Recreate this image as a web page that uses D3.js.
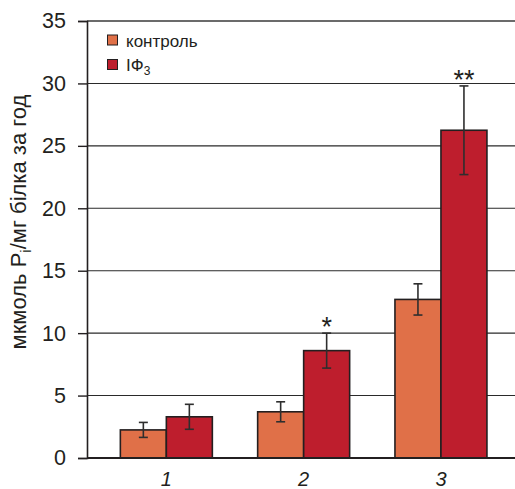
<!DOCTYPE html>
<html><head><meta charset="utf-8">
<script src="https://cdn.jsdelivr.net/npm/d3@7"></script>
<style>body{margin:0;background:#fff}svg{display:block}text{font-family:"Liberation Sans",Arial,sans-serif;fill:#231f20}</style>
</head><body><svg id="c" width="515" height="489"></svg>
<script>
const groups = ["1","2","3"];
const seriesNames = ["контроль","IФ3"];
const control = [2.25, 3.7, 12.7];
const controlErr = [0.6, 0.8, 1.25];
const treated = [3.3, 8.6, 26.25];
const treatedErr = [1.0, 1.4, 3.55];
const marks = ["", "*", "**"];
const yTicks = [0,5,10,15,20,25,30,35];
const colors = ["#e07048", "#be1e2d"];

(function(){
const svg = d3.select("#c");
const mLeft = 87, mRight = 515, mTop = 21, mBottom = 458;
const y = d3.scaleLinear().domain([0,35]).range([mBottom, mTop]);
const x = d3.scaleBand().domain(groups).range([97.7, 509.6]).paddingInner(0.33).paddingOuter(0.165);
const xs = d3.scaleBand().domain([0,1]).range([0, x.bandwidth()]);

// grid
svg.append("g").selectAll("line").data(yTicks.filter(d=>d>0)).join("line")
  .attr("x1", mLeft).attr("x2", mRight).attr("y1", d=>y(d)).attr("y2", d=>y(d))
  .attr("stroke", d=> d===35 ? "#3a3a3a" : "#2a2a2a").attr("stroke-width", d=> d===35?1.6:1.1);

// y axis
const ya = svg.append("g").attr("transform", `translate(${mLeft},0)`)
  .call(d3.axisLeft(y).tickValues(yTicks).tickSize(9).tickPadding(12));
ya.select(".domain").attr("stroke","#231f20").attr("stroke-width",1.6);
ya.selectAll(".tick line").attr("stroke","#231f20").attr("stroke-width",1.4);
ya.selectAll(".tick text").attr("font-size",21.5).attr("font-family","Liberation Sans, Arial, sans-serif").attr("fill","#231f20");

// bars
const data = [];
groups.forEach((g,i)=>{
  data.push({g, s:0, v:control[i], e:controlErr[i]});
  data.push({g, s:1, v:treated[i], e:treatedErr[i]});
});
svg.append("g").selectAll("rect").data(data).join("rect")
  .attr("x", d=>x(d.g)+xs(d.s)).attr("width", xs.bandwidth())
  .attr("y", d=>y(d.v)).attr("height", d=>y(0)-y(d.v))
  .attr("fill", d=>colors[d.s]).attr("stroke","#231f20").attr("stroke-width",1.6);

// x axis
svg.append("line").attr("x1",mLeft).attr("x2",mRight).attr("y1",mBottom).attr("y2",mBottom)
  .attr("stroke","#231f20").attr("stroke-width",2);
svg.append("g").selectAll("text").data(groups).join("text")
  .attr("x", d=>x(d)+x.bandwidth()/2).attr("y", 485.5)
  .attr("text-anchor","middle").attr("font-size",20).attr("font-style","italic").text(d=>d);

// error bars
const eb = svg.append("g").attr("stroke","#2e2e2e").attr("stroke-width",1.6);
data.forEach(d=>{
  const cx = x(d.g)+xs(d.s)+xs.bandwidth()/2;
  eb.append("line").attr("x1",cx).attr("x2",cx).attr("y1",y(d.v+d.e)).attr("y2",y(d.v-d.e));
  eb.append("line").attr("x1",cx-4.5).attr("x2",cx+4.5).attr("y1",y(d.v+d.e)).attr("y2",y(d.v+d.e));
  eb.append("line").attr("x1",cx-4.5).attr("x2",cx+4.5).attr("y1",y(d.v-d.e)).attr("y2",y(d.v-d.e));
});

// significance
svg.append("g").selectAll("text").data(groups).join("text")
  .attr("x", (d)=>x(d)+xs(1)+xs.bandwidth()/2)
  .attr("y", (d,i)=>y(treated[i]+treatedErr[i]) + 3)
  .attr("text-anchor","middle").attr("font-size",27).text((d,i)=>marks[i]);

// legend
const lg = svg.append("g");
seriesNames.forEach((n,i)=>{
  lg.append("rect").attr("x",107.5).attr("y",35+i*24.5).attr("width",10).attr("height",10)
    .attr("fill",colors[i]).attr("stroke","#231f20").attr("stroke-width",1);
});
lg.append("text").attr("x",126).attr("y",46.5).attr("font-size",17).text(seriesNames[0]);
const t2 = lg.append("text").attr("x",126).attr("y",71).attr("font-size",17);
t2.append("tspan").text("IФ");
t2.append("tspan").attr("font-size",12).attr("dy",4).text("3");

// y label
const yl = svg.append("text").attr("transform","translate(26,222) rotate(-90)")
  .attr("text-anchor","middle").attr("font-size",22);
yl.append("tspan").text("мкмоль P");
yl.append("tspan").attr("font-size",15).attr("dy",5).text("i");
yl.append("tspan").attr("dy",-5).text("/мг білка за год");
})();
</script></body></html>
